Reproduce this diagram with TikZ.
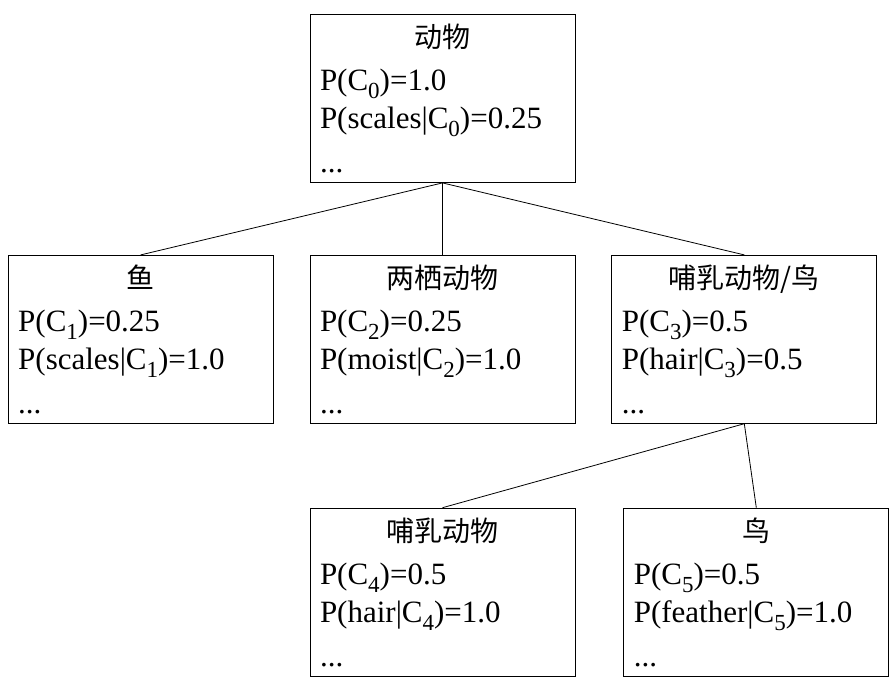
\documentclass[tikz,border=0pt]{standalone}
\usepackage{fontspec}
\setmainfont{Liberation Serif}
\newfontfamily\cjk{Noto Sans CJK SC}
\usetikzlibrary{positioning}
\tikzset{
  card/.style={draw=black, line width=0.8pt, fill=white, align=left,
    text width=245pt, inner xsep=10pt, minimum height=168pt,
    font=\fontsize{31}{38}\selectfont},
  link/.style={draw=black, line width=0.8pt}
}
\newcommand{\idx}[1]{\raisebox{-0.26em}{\fontsize{23}{23}\selectfont #1}}
\newcommand{\cardtext}[3]{{\centering\cjk\fontsize{28}{38}\selectfont #1\par}\vspace{5pt}#2\\#3\\[6pt]...}

\begin{document}
\begin{tikzpicture}[x=1pt, y=-1pt]
  \useasboundingbox (0,0) rectangle (890,682);
  \node[card] (root) at (442.5,98.5)
    {\cardtext{动物}{P(C\idx{0})=1.0}{P(scales|C\idx{0})=0.25}};
  \node[card, below=72pt of root] (amphib)
    {\cardtext{两栖动物}{P(C\idx{2})=0.25}{P(moist|C\idx{2})=1.0}};
  \node[card, left=36pt of amphib] (fish)
    {\cardtext{鱼}{P(C\idx{1})=0.25}{P(scales|C\idx{1})=1.0}};
  \node[card, right=36pt of amphib] (mambird)
    {\cardtext{哺乳动物/鸟}{P(C\idx{3})=0.5}{P(hair|C\idx{3})=0.5}};
  \node[card, below=84pt of amphib] (mammal)
    {\cardtext{哺乳动物}{P(C\idx{4})=0.5}{P(hair|C\idx{4})=1.0}};
  \node[card, right=48pt of mammal] (bird)
    {\cardtext{鸟}{P(C\idx{5})=0.5}{P(feather|C\idx{5})=1.0}};
  \draw[link] (root.south) -- (fish.north);
  \draw[link] (root.south) -- (amphib.north);
  \draw[link] (root.south) -- (mambird.north);
  \draw[link] (mambird.south) -- (mammal.north);
  \draw[link] (mambird.south) -- (bird.north);
\end{tikzpicture}
\end{document}
